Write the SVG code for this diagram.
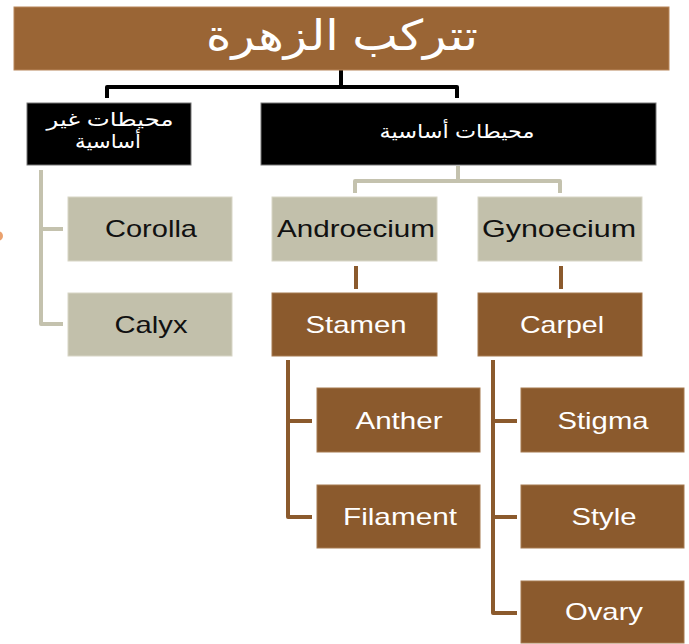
<svg xmlns="http://www.w3.org/2000/svg" width="689" height="644" viewBox="0 0 689 644">
<style>
.title{fill:#9A6535;stroke:#B8865A;stroke-width:1}
.blk{fill:#000;stroke:#777;stroke-width:1}
.gry{fill:#C2C0AB;stroke:#D8D6C6;stroke-width:1}
.brn{fill:#8B5A2D;stroke:#A67A50;stroke-width:1}
.ar{font-family:"Liberation Sans","DejaVu Sans",sans-serif;fill:#fff;text-anchor:middle}
.en{font-family:"Liberation Sans",Arial,sans-serif;font-size:24px;text-anchor:middle}
.dk{fill:#111}
.wt{fill:#fff}
.cb{fill:none;stroke:#000;stroke-width:4;stroke-linejoin:round}
.cg{fill:none;stroke:#C4C2AE;stroke-width:4;stroke-linejoin:round}
.cn{fill:none;stroke:#8B5A2D;stroke-width:4;stroke-linejoin:round}
</style>
<rect width="689" height="644" fill="#fff"/>
<circle cx="-2" cy="236" r="5" fill="#E58A4A" opacity="0.8"/>
<g id="connectors">
<path class="cb" d="M341,70 V87 M107,98 V87 H457 V98"/>
<path class="cg" d="M41,170 V324 H63 M41,229 H63"/>
<path class="cg" d="M458,166 V181 M355,193 V181 H560 V193"/>
<path class="cn" d="M356,266 V289 M561,266 V289"/>
<path class="cn" d="M288,360 V517 H312 M288,421 H312"/>
<path class="cn" d="M493,360 V613 H517 M493,421 H517 M493,517 H517"/>
</g>
<g id="n-title"><rect class="title" x="14" y="7" width="655" height="63"/><text class="ar" x="342" y="50" font-size="42" textLength="272" lengthAdjust="spacingAndGlyphs">تتركب الزهرة</text></g>
<g id="n-nonessential"><rect class="blk" x="27" y="103" width="164" height="62"/><text class="ar" x="110" y="126" font-size="19" textLength="127" lengthAdjust="spacingAndGlyphs">محيطات غير</text><text class="ar" x="108" y="148" font-size="19" textLength="66" lengthAdjust="spacingAndGlyphs">أساسية</text></g>
<g id="n-essential"><rect class="blk" x="261" y="103" width="395" height="62"/><text class="ar" x="457" y="138" font-size="19" textLength="155" lengthAdjust="spacingAndGlyphs">محيطات أساسية</text></g>
<g id="n-corolla"><rect class="gry" x="68" y="197" width="164" height="64"/><text class="en dk" x="151" y="237" textLength="92" lengthAdjust="spacingAndGlyphs">Corolla</text></g>
<g id="n-calyx"><rect class="gry" x="68" y="293" width="164" height="63"/><text class="en dk" x="151" y="333" textLength="73" lengthAdjust="spacingAndGlyphs">Calyx</text></g>
<g id="n-androecium"><rect class="gry" x="272" y="197" width="165" height="64"/><text class="en dk" x="356" y="237" textLength="158" lengthAdjust="spacingAndGlyphs">Androecium</text></g>
<g id="n-gynoecium"><rect class="gry" x="478" y="197" width="164" height="64"/><text class="en dk" x="559" y="237" textLength="154" lengthAdjust="spacingAndGlyphs">Gynoecium</text></g>
<g id="n-stamen"><rect class="brn" x="272" y="293" width="165" height="63"/><text class="en wt" x="356" y="333" textLength="101" lengthAdjust="spacingAndGlyphs">Stamen</text></g>
<g id="n-carpel"><rect class="brn" x="478" y="293" width="164" height="63"/><text class="en wt" x="562" y="333" textLength="84" lengthAdjust="spacingAndGlyphs">Carpel</text></g>
<g id="n-anther"><rect class="brn" x="317" y="388" width="163" height="64"/><text class="en wt" x="399" y="429" textLength="87" lengthAdjust="spacingAndGlyphs">Anther</text></g>
<g id="n-filament"><rect class="brn" x="317" y="485" width="163" height="63"/><text class="en wt" x="400" y="525" textLength="114" lengthAdjust="spacingAndGlyphs">Filament</text></g>
<g id="n-stigma"><rect class="brn" x="521" y="388" width="163" height="64"/><text class="en wt" x="603" y="429" textLength="91" lengthAdjust="spacingAndGlyphs">Stigma</text></g>
<g id="n-style"><rect class="brn" x="521" y="485" width="163" height="63"/><text class="en wt" x="604" y="525" textLength="65" lengthAdjust="spacingAndGlyphs">Style</text></g>
<g id="n-ovary"><rect class="brn" x="521" y="581" width="163" height="62"/><text class="en wt" x="604" y="620" textLength="78" lengthAdjust="spacingAndGlyphs">Ovary</text></g>
</svg>
